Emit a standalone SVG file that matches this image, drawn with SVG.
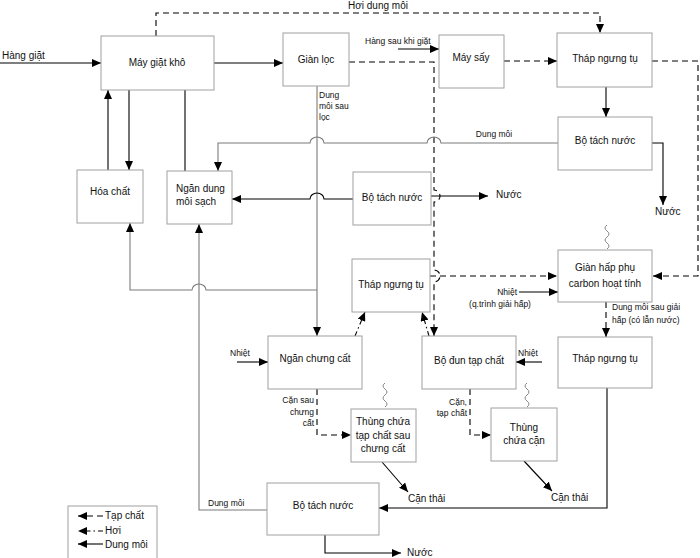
<svg xmlns="http://www.w3.org/2000/svg" width="700" height="558" viewBox="0 0 700 558">
<style>
.b{fill:#fff;stroke:#a0a0a0;stroke-width:1}
.t{font-family:"Liberation Sans",Arial,sans-serif;font-size:10px;fill:#111;text-anchor:middle}
.s{font-family:"Liberation Sans",Arial,sans-serif;font-size:8.5px;fill:#111}
.l{fill:none;stroke:#000;stroke-width:1.1}
.g{fill:none;stroke:#7a7a7a;stroke-width:1.1}
.d{fill:none;stroke:#000;stroke-width:1.1;stroke-dasharray:6 4}
.dd{fill:none;stroke:#000;stroke-width:1.1;stroke-dasharray:5 3 1.5 3}
.q{fill:none;stroke:#777;stroke-width:0.9}
</style>
<defs>
<marker id="a" markerWidth="9" markerHeight="8" refX="9" refY="4" orient="auto" markerUnits="userSpaceOnUse">
<path d="M0,0 L9,4 L0,8 z" fill="#000"/>
</marker>
</defs>
<rect width="700" height="558" fill="#fff"/>
<g id="connectors">
<path class="l" d="M0 63 H101" marker-end="url(#a)"/>
<path class="l" d="M214 63 H283" marker-end="url(#a)"/>
<path class="d" d="M156 36 V13 H600 V33" marker-end="url(#a)"/>
<path class="d" d="M349 62 H434 V190 A6 6 0 0 1 434 202 V270 A6 6 0 0 1 434 282 V336" marker-end="url(#a)"/>
<path class="l" d="M398 49 H439" marker-end="url(#a)"/>
<path class="d" d="M504 61 H557" marker-end="url(#a)"/>
<path class="l" d="M606 87 V117" marker-end="url(#a)"/>
<path class="d" d="M652 61 H698 V276 H653" marker-end="url(#a)"/>
<path class="l" d="M652 143 H663 V205" marker-end="url(#a)"/>
<path class="g" d="M558 143 H441 A7 6 0 0 0 427 143 H324 A7 6 0 0 0 310 143 H218 V171" marker-end="url(#a)"/>
<path class="g" d="M317 86 V336" marker-end="url(#a)"/>
<path class="l" d="M353 199 H324 A7 6 0 0 0 310 199 H232" marker-end="url(#a)"/>
<path class="l" d="M431 196 H488" marker-end="url(#a)"/>
<path class="g" d="M317 290 H206 A7 6 0 0 0 192 290 H130 V223" marker-end="url(#a)"/>
<path class="g" d="M267 510 H199 V224" marker-end="url(#a)"/>
<path class="l" d="M108 170 V90" marker-end="url(#a)"/>
<path class="l" d="M185 171 V79 H129 V170" marker-end="url(#a)"/>
<path class="l" d="M237 362 H268" marker-end="url(#a)"/>
<path class="dd" d="M355 336 L365 312" marker-end="url(#a)"/>
<path class="dd" d="M429 336 L422 312" marker-end="url(#a)"/>
<path class="d" d="M430 276 H557" marker-end="url(#a)"/>
<path class="l" d="M519 292 H558" marker-end="url(#a)"/>
<path class="d" d="M606 302 V337" marker-end="url(#a)"/>
<path class="l" d="M542 362 H516" marker-end="url(#a)"/>
<path class="l" d="M607 388 V508 H379" marker-end="url(#a)"/>
<path class="l" d="M325 535 V553 H401" marker-end="url(#a)"/>
<path class="d" d="M317 389 V435 H351" marker-end="url(#a)"/>
<path class="d" d="M470 389 V435 H491" marker-end="url(#a)"/>
<path class="l" d="M382 462 L408 492" marker-end="url(#a)"/>
<path class="l" d="M524 461 L552 491" marker-end="url(#a)"/>
<path class="q" d="M607 225 q-4 3 0 6 q4 3 0 6 q-4 3 0 6 q4 3 0 6"/>
<path class="q" d="M385 383 q-4 3 0 6 q4 3 0 6 q-4 3 0 6 q4 3 0 6"/>
<path class="q" d="M527 383 q-4 3 0 6 q4 3 0 6 q-4 3 0 6 q4 3 0 6"/>
</g>
<g id="labels">
<text class="t" x="2" y="59" style="text-anchor:start">Hàng giặt</text>
<text class="t" x="378" y="9">Hơi dung môi</text>
<text class="s" x="365" y="44">Hàng sau khi giặt</text>
<text class="s" x="494" y="137" text-anchor="middle">Dung môi</text>
<text class="s" x="319" y="98">Dung</text>
<text class="s" x="319" y="109">môi sau</text>
<text class="s" x="319" y="120">lọc</text>
<text class="t" x="496" y="198" style="text-anchor:start">Nước</text>
<text class="t" x="655" y="215" style="text-anchor:start">Nước</text>
<text class="s" x="230" y="356">Nhiệt</text>
<text class="s" x="518" y="356">Nhiệt</text>
<text class="s" x="517" y="295" text-anchor="end">Nhiệt</text>
<text class="s" x="500" y="307" text-anchor="middle">(q.trình giải hấp)</text>
<text class="s" x="612" y="310">Dung môi sau giải</text>
<text class="s" x="612" y="323">hấp (có lẫn nước)</text>
<text class="s" x="314" y="403" text-anchor="end">Cặn sau</text>
<text class="s" x="314" y="415" text-anchor="end">chưng</text>
<text class="s" x="314" y="426" text-anchor="end">cất</text>
<text class="s" x="467" y="405" text-anchor="end">Cặn,</text>
<text class="s" x="467" y="416" text-anchor="end">tạp chất</text>
<text class="t" x="408" y="502" style="text-anchor:start">Cặn thải</text>
<text class="t" x="551" y="501" style="text-anchor:start">Cặn thải</text>
<text class="s" x="208" y="506">Dung môi</text>
<text class="t" x="407" y="556" style="text-anchor:start">Nước</text>
</g>
<g id="n-maygiat"><rect class="b" x="101" y="36" width="113" height="54"/><text class="t" x="157" y="66">Máy giặt khô</text></g>
<g id="n-gianloc"><rect class="b" x="283" y="33" width="66" height="53"/><text class="t" x="316" y="63">Giàn lọc</text></g>
<g id="n-maysay"><rect class="b" x="439" y="35" width="65" height="53"/><text class="t" x="471" y="61">Máy sấy</text></g>
<g id="n-thap1"><rect class="b" x="557" y="33" width="95" height="54"/><text class="t" x="605" y="62">Tháp ngưng tụ</text></g>
<g id="n-botach1"><rect class="b" x="558" y="117" width="94" height="53"/><text class="t" x="605" y="144">Bộ tách nước</text></g>
<g id="n-hoachat"><rect class="b" x="77" y="170" width="66" height="53"/><text class="t" x="110" y="195">Hóa chất</text></g>
<g id="n-ngandm"><rect class="b" x="167" y="171" width="65" height="53"/><text class="t" x="176" y="192" style="text-anchor:start">Ngăn dung</text><text class="t" x="176" y="205" style="text-anchor:start">môi sạch</text></g>
<g id="n-botach2"><rect class="b" x="353" y="172" width="78" height="53"/><text class="t" x="392" y="201">Bộ tách nước</text></g>
<g id="n-thap2"><rect class="b" x="352" y="259" width="78" height="53"/><text class="t" x="391" y="288">Tháp ngưng tụ</text></g>
<g id="n-gianhap"><rect class="b" x="558" y="250" width="94" height="52"/><text class="t" x="605" y="271">Giàn hấp phụ</text><text class="t" x="605" y="287">carbon hoạt tính</text></g>
<g id="n-nganchung"><rect class="b" x="268" y="336" width="94" height="53"/><text class="t" x="315" y="362">Ngăn chưng cất</text></g>
<g id="n-bodun"><rect class="b" x="422" y="336" width="94" height="53"/><text class="t" x="469" y="364">Bộ đun tạp chất</text></g>
<g id="n-thap3"><rect class="b" x="558" y="337" width="94" height="51"/><text class="t" x="605" y="362">Tháp ngưng tụ</text></g>
<g id="n-thung1"><rect class="b" x="351" y="409" width="65" height="53"/><text class="t" x="383" y="425">Thùng chứa</text><text class="t" x="383" y="439">tạp chất sau</text><text class="t" x="383" y="452">chưng cất</text></g>
<g id="n-thung2"><rect class="b" x="491" y="408" width="66" height="53"/><text class="t" x="524" y="431">Thùng</text><text class="t" x="524" y="444">chứa cặn</text></g>
<g id="n-botach3"><rect class="b" x="267" y="483" width="112" height="52"/><text class="t" x="323" y="509">Bộ tách nước</text></g>
<g id="legend">
<rect class="b" x="68" y="506" width="89" height="56"/>
<path class="d" d="M103 516 H78" stroke-dasharray="4 3" marker-end="url(#a)"/>
<path class="dd" d="M103 531 H78" stroke-dasharray="4 2 1.5 2" marker-end="url(#a)"/>
<path class="l" d="M103 544 H78" marker-end="url(#a)"/>
<text class="t" x="105" y="519" style="text-anchor:start">Tạp chất</text>
<text class="t" x="105" y="534" style="text-anchor:start">Hơi</text>
<text class="t" x="105" y="548" style="text-anchor:start">Dung môi</text>
</g>
</svg>
